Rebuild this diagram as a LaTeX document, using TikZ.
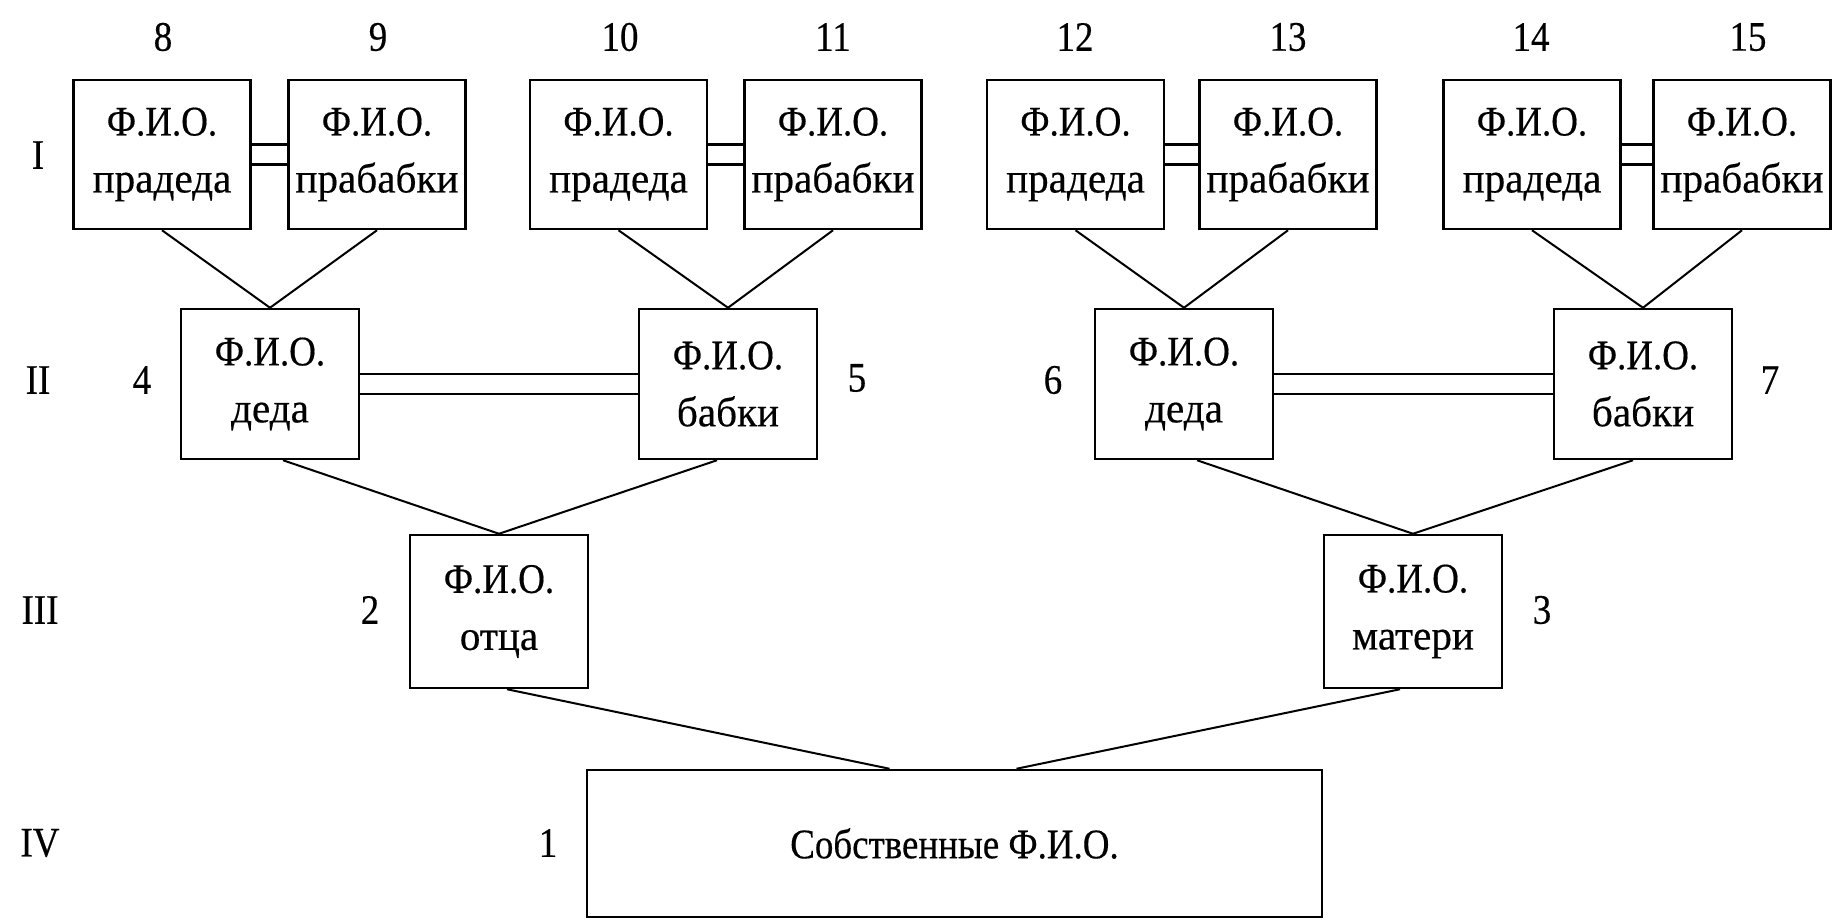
\documentclass[tikz,border=0pt]{standalone}
\usepackage{fontspec}
\setmainfont{Liberation Serif}[FakeStretch=0.88,FakeBold=0.4]
\newfontfamily\lowfont{Liberation Serif}[FakeStretch=0.98,FakeBold=0.4]
\usetikzlibrary{calc}
\begin{document}
\begin{tikzpicture}[x=1pt,y=-1pt,
  box/.style={draw, line width=2.5pt, rectangle, inner sep=0pt, align=center,
    font=\fontsize{42}{57}\selectfont},
  topbox/.style={box, minimum width=177pt, minimum height=149pt},
  midbox/.style={box, minimum width=178pt, minimum height=150pt},
  lbl/.style={inner sep=0pt, font=\fontsize{42}{57}\selectfont},
  link/.style={line width=2pt},
  wed/.style={line width=2.5pt}]
\useasboundingbox (0,0) rectangle (1832,921);
\fill[white] (0,0) rectangle (1832,921);

% Row I
\node[topbox] (b8)  at (162,154.5)  {Ф.И.О.\\\lowfont прадеда};
\node[topbox] (b9)  at (377,154.5)  {Ф.И.О.\\\lowfont прабабки};
\node[topbox] (b10) at (618.5,154.5) {Ф.И.О.\\\lowfont прадеда};
\node[topbox] (b11) at (833,154.5)  {Ф.И.О.\\\lowfont прабабки};
\node[topbox] (b12) at (1075.5,154.5) {Ф.И.О.\\\lowfont прадеда};
\node[topbox] (b13) at (1288,154.5) {Ф.И.О.\\\lowfont прабабки};
\node[topbox] (b14) at (1532,154.5) {Ф.И.О.\\\lowfont прадеда};
\node[topbox] (b15) at (1742,154.5) {Ф.И.О.\\\lowfont прабабки};

% Row II
\node[midbox] (g4) at (270,384)  {Ф.И.О.\\\lowfont деда};
\node[midbox] (g5) at (728,384)  {Ф.И.О.\\\lowfont бабки};
\node[midbox] (g6) at (1184,384) {Ф.И.О.\\\lowfont деда};
\node[midbox] (g7) at (1643,384) {Ф.И.О.\\\lowfont бабки};

% Row III
\node[box, minimum width=178pt, minimum height=153pt] (p2) at (499,611.5)  {Ф.И.О.\\\lowfont отца};
\node[box, minimum width=178pt, minimum height=153pt] (p3) at (1413,611.5) {Ф.И.О.\\\lowfont матери};

% Row IV
\node[box, minimum width=735pt, minimum height=147pt] (me) at (954.5,843.5) {Собственные Ф.И.О.};

% Generation numerals
\node[lbl] (r1) at (38,155) {I};
\node[lbl] (r2) at (38,380) {II};
\node[lbl] (r3) at (40,610) {III};
\node[lbl] (r4) at (40,843) {IV};

% Person numbers
\node[lbl] (n8)  at (163,37)  {8};
\node[lbl] (n9)  at (378,37)  {9};
\node[lbl] (n10) at (620,37)  {10};
\node[lbl] (n11) at (833,37)  {11};
\node[lbl] (n12) at (1075,37) {12};
\node[lbl] (n13) at (1288,37) {13};
\node[lbl] (n14) at (1531,37) {14};
\node[lbl] (n15) at (1748,37) {15};
\node[lbl] (n4) at (142,380)  {4};
\node[lbl] (n5) at (857,378)  {5};
\node[lbl] (n6) at (1053,380) {6};
\node[lbl] (n7) at (1770,380) {7};
\node[lbl] (n2) at (370,610)  {2};
\node[lbl] (n3) at (1542,610) {3};
\node[lbl] (n1) at (548,843)  {1};

% Marriage double lines
\foreach \a/\b in {b8/b9, b10/b11, b12/b13, b14/b15, g4/g5, g6/g7} {
  \draw[wed] ([yshift=10pt]\a.east) -- ([yshift=10pt]\b.west);
  \draw[wed] ([yshift=-10pt]\a.east) -- ([yshift=-10pt]\b.west);
}

% Row I -> Row II
\draw[link] (b8.south) -- (g4.north);
\draw[link] (b9.south) -- (g4.north);
\draw[link] (b10.south) -- (g5.north);
\draw[link] (b11.south) -- (g5.north);
\draw[link] (b12.south) -- (g6.north);
\draw[link] (b13.south) -- (g6.north);
\draw[link] (b14.south) -- (g7.north);
\draw[link] (b15.south) -- (g7.north);

% Row II -> Row III
\draw[link] ($(g4.south)+(13,0)$) -- (p2.north);
\draw[link] ($(g5.south)+(-11,0)$) -- (p2.north);
\draw[link] ($(g6.south)+(13,0)$) -- (p3.north);
\draw[link] ($(g7.south)+(-10,0)$) -- (p3.north);

% Row III -> Row IV
\draw[link] ($(p2.south)+(8,0)$) -- ($(me.north)+(-65,0)$);
\draw[link] ($(p3.south)+(-13,0)$) -- ($(me.north)+(62,0)$);
\end{tikzpicture}
\end{document}
